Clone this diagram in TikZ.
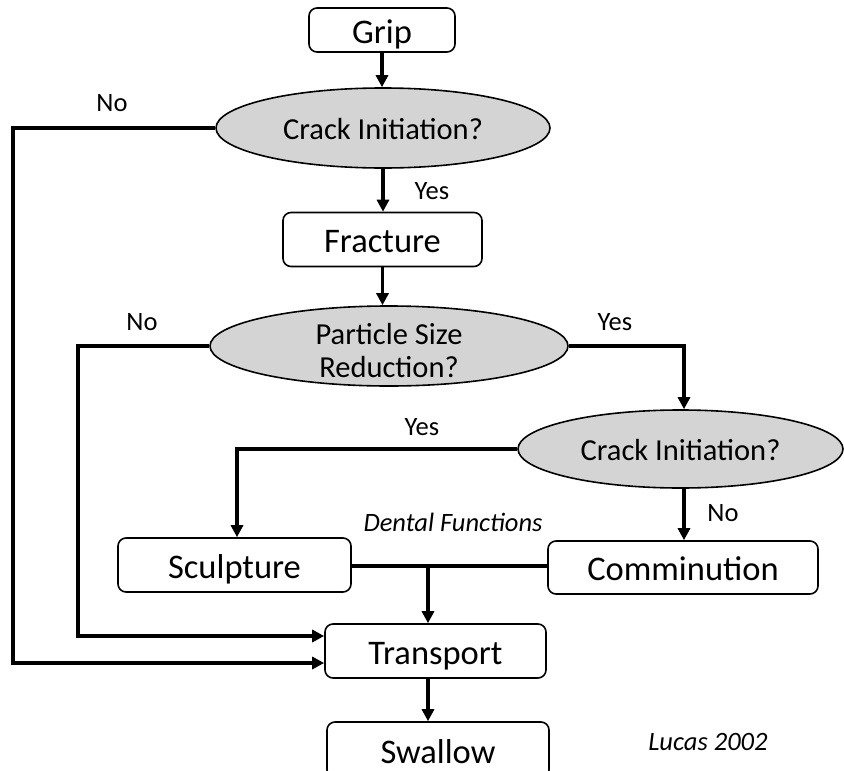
\documentclass[tikz,border=0pt]{standalone}
\usepackage{fontspec}
\setmainfont{Carlito}
\usetikzlibrary{shapes.geometric,arrows.meta}
\definecolor{ellfill}{HTML}{D4D4D4}
\tikzset{
  box/.style={draw=black,line width=1.6pt,rounded corners=8pt,fill=white,inner sep=0pt,font=\fontsize{34.5}{38}\selectfont,text height=26pt,text depth=0pt},
  ell/.style={ellipse,draw=black,line width=1.6pt,fill=ellfill,inner sep=0pt,font=\fontsize{30.5}{34}\selectfont,align=center},
  elltext/.style={text height=22pt,text depth=0pt},
  conn/.style={line width=3.6pt,line cap=butt,line join=miter},
  arr/.style={conn,-{Triangle[length=12pt,width=12pt]}},
  lbl/.style={font=\fontsize{26.5}{30}\selectfont,inner sep=0pt},
  ilbl/.style={font=\fontsize{26.5}{30}\selectfont\itshape,inner sep=0pt}
}
\begin{document}
\begin{tikzpicture}[x=1pt,y=-1pt]
\useasboundingbox (0,0) rectangle (844,771);
\clip (0,0) rectangle (844,771);
% nodes
\node[box,minimum width=146pt,minimum height=44pt] (grip) at (382,30) {Grip};
\node[ell,elltext,minimum width=334pt,minimum height=80pt] (c1) at (383,128) {Crack Initiation?};
\node[box,minimum width=199pt,minimum height=54pt] (frac) at (382.5,239.5) {Fracture};
\node[ell,minimum width=358pt,minimum height=80pt] (psr) at (389,346) {};
\node[font=\fontsize{30.5}{33}\selectfont,align=center,inner sep=0pt] (psrt) at ([yshift=-5pt]psr.center) {Particle Size\\Reduction?};
\node[ell,elltext,minimum width=325pt,minimum height=78pt] (c3) at (680.5,449) {Crack Initiation?};
\node[box,minimum width=233pt,minimum height=54pt] (sc) at (234.5,565) {Sculpture};
\node[box,minimum width=270pt,minimum height=53pt] (cm) at (683,567.5) {Comminution};
\node[box,minimum width=221pt,minimum height=54pt] (tr) at (435.5,651) {Transport};
\node[box,minimum width=222pt,minimum height=56pt] (sw) at (438,750) {Swallow};
% labels
\node[lbl] (no1) at (112,103) {No};
\node[lbl] (yes1) at (432,191) {Yes};
\node[lbl] (no2) at (142,322) {No};
\node[lbl] (yes2) at (615,322) {Yes};
\node[lbl] (yes3) at (422,427) {Yes};
\node[lbl] (no3) at (723,513) {No};
\node[ilbl] (df) at (453,522) {Dental Functions};
\node[ilbl] (lucas) at (708,742) {Lucas 2002};
% coordinates
\coordinate (k1a) at (13,128);
\coordinate (k1b) at (13,663);
\coordinate (k2a) at (78,346);
\coordinate (k2b) at (78,636);
\coordinate (k3) at (684,346);
\coordinate (k4) at (237,449);
\coordinate (j) at (428,566);
% connectors
\draw[arr] (grip.south) -- (grip.south |- c1.north);
\draw[arr] (c1.south) -- (c1.south |- frac.north);
\draw[arr] (frac.south) -- (frac.south |- psr.north);
\draw[arr] (c1.west) -- (k1a) -- (k1b) -- (k1b -| tr.west);
\draw[arr] (psr.west) -- (k2a) -- (k2b) -- (k2b -| tr.west);
\draw[arr] (psr.east) -- (k3) -- (k3 |- c3.north);
\draw[arr] (c3.west) -- (k4) -- (k4 |- sc.north);
\draw[arr] (c3.south -| k3) -- (k3 |- cm.north);
\draw[conn] (sc.east |- j) -- (cm.west |- j);
\draw[arr] (j) -- (j |- tr.north);
\draw[arr] (tr.south -| j) -- (j |- sw.north);
\end{tikzpicture}
\end{document}
